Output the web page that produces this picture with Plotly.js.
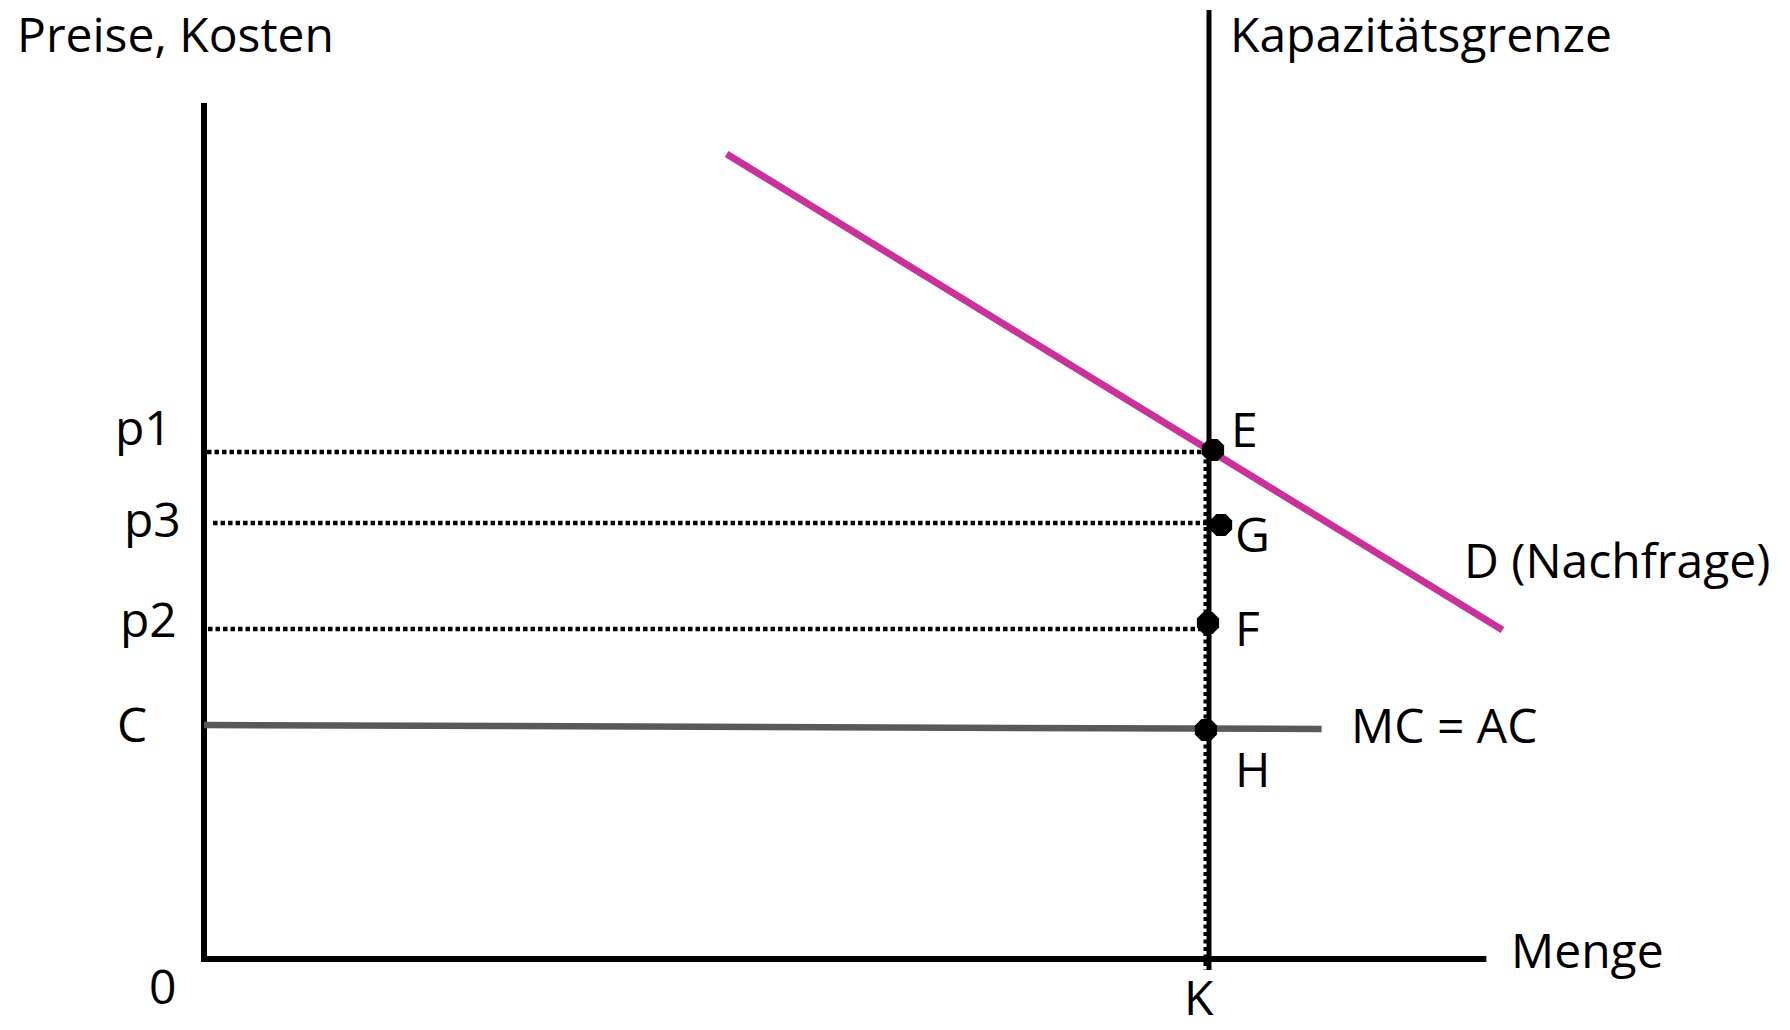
<!DOCTYPE html>
<html>
<head>
<meta charset="utf-8">
<script src="https://cdn.plot.ly/plotly-3.0.1.min.js"></script>
<style>
  html, body { margin: 0; padding: 0; background: #fff; }
  #chart { width: 1790px; height: 1030px; }
</style>
</head>
<body>
<div id="chart"></div>
<script>
// --- data ---
var K = 10;                                  // capacity limit
var preisNamen = ['p1', 'p3', 'p2'];
var preise = [5.07, 4.36, 3.30];
var preisStartX = [0.03, 0.09, 0.04];

var nachfrageX = [5.2, 12.92];
var nachfrageY = [8.05, 3.29];

var kostenX = [0, 11.12];                    // MC = AC
var kostenY = [2.34, 2.30];

var punktNamen = ['E', 'G', 'F', 'H'];
var punktX = [10.04, 10.12, 9.99, 9.97];
var punktY = [5.09, 4.34, 3.36, 2.29];

var achseXEnde = 12.76;
var achseYEnde = 8.56;
var kapY = [-0.11, 9.49];
var kapDotX = 9.97;

// --- traces ---
var black = '#000000';
var data = [];

// axes
data.push({x: [0, 0, achseXEnde], y: [achseYEnde, 0, 0], mode: 'lines',
           line: {color: black, width: 6}});

// capacity line
data.push({x: [K, K], y: kapY, mode: 'lines', line: {color: black, width: 5}});

// dotted guides
for (var i = 0; i < preise.length; i++) {
    data.push({x: [preisStartX[i], K], y: [preise[i], preise[i]], mode: 'lines',
               line: {color: black, width: 4.5, dash: '4.5px,3px'}});
}
data.push({x: [kapDotX, kapDotX], y: [preise[0], kapY[0]], mode: 'lines',
           line: {color: black, width: 5, dash: '4px,3.5px'}});

// MC = AC
data.push({x: kostenX, y: kostenY, mode: 'lines', line: {color: '#595959', width: 6.5}});

// demand
data.push({x: nachfrageX, y: nachfrageY, mode: 'lines', line: {color: '#C9319B', width: 7}});

// points
data.push({x: punktX, y: punktY, mode: 'markers',
           marker: {symbol: 'octagon', size: 24, color: black}});

// --- labels ---
var W = 1790, H = 1030;
var FS = 48;
var fnt = {family: 'Open Sans, sans-serif', size: FS, color: black};
function lbl(text, px, baseline, anchor) {
    return {text: text, xref: 'paper', yref: 'paper', x: px / W, y: 1 - (baseline - 0.388 * FS) / H,
            xanchor: anchor, yanchor: 'middle', showarrow: false, font: fnt, borderpad: 0};
}
var annotations = [
    lbl('Preise, Kosten', 16, 52, 'left'),
    lbl('Kapazitätsgrenze', 1229, 52, 'left'),
    lbl(preisNamen[0], 143, 445, 'center'),
    lbl(preisNamen[1], 152, 537, 'center'),
    lbl(preisNamen[2], 148, 637, 'center'),
    lbl('C', 132, 742, 'center'),
    lbl('0', 162, 1004, 'center'),
    lbl('K', 1199, 1015, 'center'),
    lbl('Menge', 1510, 968, 'left'),
    lbl('D (Nachfrage)', 1463, 578, 'left'),
    lbl('MC = AC', 1350, 743, 'left'),
    lbl(punktNamen[0], 1230, 447, 'left'),
    lbl(punktNamen[1], 1234, 552, 'left'),
    lbl(punktNamen[2], 1234, 646, 'left'),
    lbl(punktNamen[3], 1234, 787, 'left')
];

var layout = {
    width: W,
    height: H,
    margin: {l: 0, r: 0, t: 0, b: 0},
    showlegend: false,
    paper_bgcolor: '#ffffff',
    plot_bgcolor: '#ffffff',
    xaxis: {range: [-204 / 100.5, (W - 204) / 100.5], visible: false, fixedrange: true},
    yaxis: {range: [-0.71, 9.59], visible: false, fixedrange: true},
    annotations: annotations
};

Plotly.newPlot('chart', data, layout, {staticPlot: true, displayModeBar: false});
</script>
</body>
</html>
